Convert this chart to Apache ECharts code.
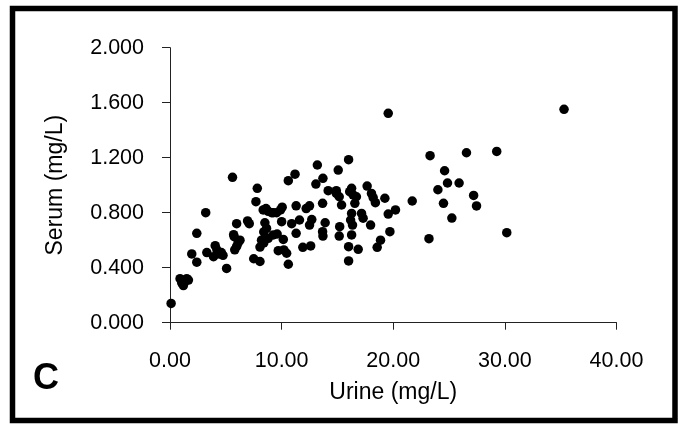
<!DOCTYPE html>
<html>
<head>
<meta charset="utf-8">
<script src="https://cdn.jsdelivr.net/npm/echarts@6/dist/echarts.min.js"></script>
<style>
html,body{margin:0;padding:0;background:#fff;}
#chart{width:679px;height:424px;}
</style>
</head>
<body>
<div id="chart"></div>
<script>
// Urine (mg/L) values
var urine = [
  0.1,
  0.9,1.5,1.2,1.65,1.05,1.35,
  1.95,2.4,2.4,
  3.2,
  3.3,3.9,4.05,4.2,4.4,4.75,4.6,
  5.07,
  5.6,
  5.97,5.75,6.27,5.97,5.8,6.1,5.7,
  6.95,7.1,
  7.5,8.06,
  7.82,7.7,
  8.35,8.8,9.25,9.55,9.9,10.05,8.6,9.1,
  8.5,8.4,8.2,8.06,8.8,9.25,9.6,10.15,9.7,10.2,10.45,10.6,10.0,8.65,8.4,
  10.6,11.2,
  11.3,10.9,11.6,11.3,11.9,12.6,12.2,12.5,12.7,12.5,
  13.2,13.7,13.07,
  13.67,13.9,13.67,13.7,
  14.17,15.07,14.9,15.37,15.16,15.2,15.16,14.9,
  16.0,16.27,16.1,16.7,16.56,16.27,16.18,16.35,16.27,16.0,16.0,16.86,17.16,17.3,16.4,
  17.66,18.05,18.4,17.97,18.56,18.86,19.25,19.55,19.7,20.2,19.55,18.2,
  21.7,
  23.2,23.3,
  24.0,24.5,24.6,24.86,25.25,25.9,
  26.56,27.2,27.46,
  29.27,
  30.17,
  35.3
];
// Serum (mg/L) values
var serum = [
  0.14,
  0.32,0.32,0.27,0.31,0.29,0.30,
  0.50,0.44,0.65,
  0.80,
  0.51,0.48,0.56,0.53,0.50,0.49,0.51,
  0.395,
  1.057,
  0.72,0.625,0.60,0.555,0.53,0.58,0.64,
  0.74,0.72,
  0.465,0.445,
  0.977,0.88,
  0.82,0.81,0.80,0.80,0.82,0.84,0.83,0.80,
  0.727,0.66,0.60,0.55,0.614,0.638,0.645,0.606,0.524,0.529,0.505,0.425,0.735,0.686,0.58,
  1.033,1.08,
  0.85,0.72,0.747,0.65,0.548,0.558,0.83,0.85,0.75,0.71,
  1.147,1.05,1.008,
  0.868,0.727,0.662,0.63,
  0.96,1.11,0.94,0.856,0.916,0.698,0.63,0.96,
  1.186,0.977,0.953,0.916,0.868,0.795,0.747,0.71,0.638,0.553,0.449,0.534,0.795,0.76,0.93,
  0.994,0.94,0.873,0.71,0.548,0.60,0.905,0.79,0.662,0.82,1.523,0.91,
  0.885,
  0.611,1.215,
  0.967,0.868,1.105,1.016,0.761,1.016,
  1.236,0.926,0.849,
  1.246,
  0.655,
  1.552
];
var xTickLabels = ['0.00','10.00','20.00','30.00','40.00'];
var yTickLabels = ['0.000','0.400','0.800','1.200','1.600','2.000'];
var xTitle = 'Urine (mg/L)';
var yTitle = 'Serum (mg/L)';
var panelLabel = 'C';

var points = urine.map(function(u, i){ return [u, serum[i]]; });
var FONT = '"Liberation Sans", Arial, sans-serif';

var chart = echarts.init(document.getElementById('chart'), null, {renderer:'canvas'});
chart.setOption({
  backgroundColor: '#fff',
  animation: false,
  grid: {left:170, right:62.5, top:47.7, bottom:101.3, containLabel:false},
  xAxis: {
    type:'value', min:0, max:40, interval:10,
    name: xTitle, nameLocation:'middle', nameGap:58,
    nameTextStyle:{color:'#000', fontSize:23, fontFamily:FONT},
    axisLine:{show:true, onZero:false, lineStyle:{color:'#222', width:1}},
    axisTick:{show:true, length:7, lineStyle:{color:'#222', width:1}},
    axisLabel:{color:'#000', fontSize:21.5, fontFamily:FONT, margin:27,
      formatter:function(v){ return xTickLabels[Math.round(v/10)]; }},
    splitLine:{show:false}
  },
  yAxis: {
    type:'value', min:0, max:2, interval:0.4,
    name: yTitle, nameLocation:'middle', nameGap:103,
    nameTextStyle:{color:'#000', fontSize:23, fontFamily:FONT},
    axisLine:{show:true, onZero:false, lineStyle:{color:'#222', width:1}},
    axisTick:{show:true, length:8, lineStyle:{color:'#222', width:1}},
    axisLabel:{color:'#000', fontSize:21.5, fontFamily:FONT, margin:26,
      formatter:function(v){ return yTickLabels[Math.round(v/0.4)]; }},
    splitLine:{show:false}
  },
  series: [{
    type:'scatter',
    data: points,
    symbol:'circle',
    symbolSize:9.5,
    itemStyle:{color:'#000', opacity:1},
    clip:false
  }],
  graphic: [
    {type:'rect', shape:{x:12.5, y:8.5, width:662.5, height:412},
     style:{fill:'none', stroke:'#000', lineWidth:5.5}, silent:true},
    {type:'text', left:33, top:361,
     style:{text:panelLabel, fill:'#000', font:'bold 36px ' + FONT}}
  ]
});
</script>
</body>
</html>
